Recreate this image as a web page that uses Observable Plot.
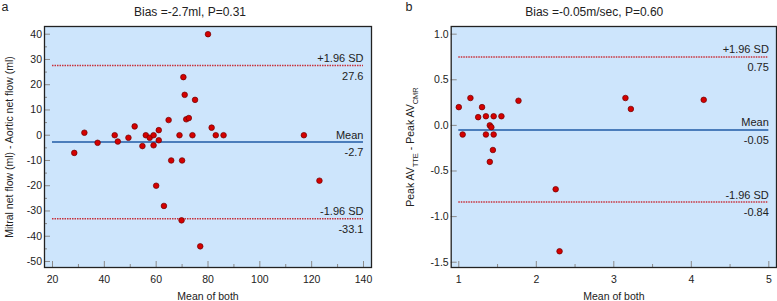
<!DOCTYPE html>
<html><head><meta charset="utf-8">
<script src="https://cdn.jsdelivr.net/npm/d3@7"></script>
<script src="https://cdn.jsdelivr.net/npm/@observablehq/plot@0.6"></script>
<style>
body{margin:0;background:#fff;}
#wrap{display:flex;width:777px;height:301px;}
#wrap svg{display:block;}
</style></head><body><div id="wrap"></div>
<script>
// ---- Panel a : net flow ----
const meanA = [28.4,32.3,37.4,44,45.2,49.3,51.7,54.7,56,57.5,59,59,61,61,64.8,65.8,69,70,71.6,72.6,74,81.4,83,86,60,70.5,71,75,80,117,63,69.8,77,123];
const diffA = [-7,1,-3,0,-2.5,-1,3.5,-4.3,0,-1,0,-4,2,-2,6,-10,0,-10,6.3,6.8,0,3,0,0,-20,23,16,14,40,0,-28,-33.7,-44,-18];
const limitsA = [27.6,-2.7,-33.1];
const limitTextA = ["27.6","-2.7","-33.1"];
const xTicksA = [20,40,60,80,100,120,140];
const xMinorA = [30,50,70,90,110,130];
const yTicksA = [-50,-40,-30,-20,-10,0,10,20,30,40];
const yMinorA = [-45,-35,-25,-15,-5,5,15,25,35];
const titleA = "Bias =-2.7ml, P=0.31";
const yLabelA = "Mitral net flow (ml) - Aortic net flow (ml)";

// ---- Panel b : peak AV velocity ----
const meanB = [1.0,1.05,1.15,1.25,1.3,1.35,1.35,1.4,1.42,1.45,1.45,1.44,1.4,1.55,1.77,3.15,3.22,4.16,2.25,2.3];
const diffB = [0.2,-0.1,0.3,0.09,0.2,0.1,-0.1,0,-0.02,0.1,-0.1,-0.27,-0.4,0.1,0.27,0.3,0.18,0.28,-0.7,-1.38];
const limitsB = [0.75,-0.05,-0.84];
const limitTextB = ["0.75","-0.05","-0.84"];
const xTicksB = [1,2,3,4,5];
const xMinorB = [1.5,2.5,3.5,4.5];
const yTicksB = [-1.5,-1.0,-0.5,0.0,0.5,1.0];
const yMinorB = [];
const titleB = "Bias =-0.05m/sec, P=0.60";
const yLabelPartsB = [["Peak AV",false],["TTE",true],[" - Peak AV",false],["CMR",true]];

const limitNames = ["+1.96 SD","Mean","-1.96 SD"];
const xLabel = "Mean of both";
const FONT = "'Liberation Sans', Arial, sans-serif";

function panel(o){
  const W = o.width, H = 301;
  const pw = W - o.ml - o.mr, ph = H - o.mt - o.mb;
  const lines = o.limits.map((v,i)=>({v, name: limitNames[i], txt: o.limitText[i], mean: i===1}));
  const pts = o.xs.map((x,i)=>({x, y: o.ys[i]}));
  const span = [o.xTicks[0], o.xTicks[o.xTicks.length-1]];
  return Plot.plot({
    width: W, height: H,
    marginLeft: o.ml, marginRight: o.mr, marginTop: o.mt, marginBottom: o.mb,
    x: {domain: o.xDomain, axis: null},
    y: {domain: o.yDomain, axis: null},
    style: {fontFamily: FONT, fontSize: "10.5px", color: "#222", background: "transparent", overflow: "visible"},
    marks: [
      Plot.frame({fill: "#cde5fc", stroke: null}),
      Plot.ruleY(o.yTicks, {y: d=>d, insetRight: pw-6, stroke: "#8a8a8a"}),
      Plot.ruleY(o.yMinor, {y: d=>d, insetRight: pw-3, stroke: "#8a8a8a"}),
      Plot.ruleX(o.xTicks, {x: d=>d, insetTop: ph-6, stroke: "#8a8a8a"}),
      Plot.ruleX(o.xMinor, {x: d=>d, insetTop: ph-3, stroke: "#8a8a8a"}),
      Plot.ruleY(lines.filter(d=>!d.mean), {y: "v", x1: span[0], x2: span[1], stroke: "#c8303a", strokeWidth: 1.5, strokeDasharray: "1.5,1"}),
      Plot.ruleY(lines.filter(d=>d.mean), {y: "v", x1: span[0], x2: span[1], stroke: "#1f5aa6", strokeWidth: 1.5}),
      Plot.text(lines, {x: span[1], y: "v", text: "name", textAnchor: "end", dy: -7, fontSize: 11, fill: "#222"}),
      Plot.text(lines, {x: span[1], y: "v", text: "txt", textAnchor: "end", dy: 10.5, fontSize: 11, fill: "#222"}),
      Plot.dot(pts, {x: "x", y: "y", r: 2.8, fill: "#d40000", stroke: "#6e0000", strokeWidth: 0.7}),
      Plot.frame({stroke: "#222", strokeWidth: 1.3}),
      Plot.axisY(o.yTicks, {tickSize: 0, tickPadding: 2.5, tickFormat: o.yFmt, label: null, fontSize: 10.5}),
      Plot.axisX(o.xTicks, {tickSize: 0, tickPadding: 8, tickFormat: o.xFmt, label: null, fontSize: 10.5}),
      Plot.text([o.title], {text: d=>d, frameAnchor: "top", textAnchor: "middle", dx: o.titleDx, dy: -10.3, lineAnchor: "bottom", fontSize: 12, fill: "#222"}),
      Plot.text([xLabel], {text: d=>d, frameAnchor: "bottom", textAnchor: "middle", dy: 32, lineAnchor: "bottom", fontSize: 10.5, fill: "#222"}),
      Plot.text([o.yLabel], {text: d=>d, frameAnchor: "left", textAnchor: "middle", dx: o.yLabelDx, rotate: -90, fontSize: 10.5, fill: "#222"}),
      Plot.text([o.letter], {text: d=>d, frameAnchor: "top-left", dx: o.letterDx, dy: -16, lineAnchor: "bottom", textAnchor: "start", fontSize: 12.5, fill: "#222"})
    ]
  });
}

const wrap = document.getElementById("wrap");
const svgA = panel({
  width: 390, ml: 44, mr: 19, mt: 26, mb: 34,
  xDomain: [16.91, 143.09], yDomain: [-52.38, 43.05],
  xs: meanA, ys: diffA, limits: limitsA, limitText: limitTextA,
  xTicks: xTicksA, xMinor: xMinorA, yTicks: yTicksA, yMinor: yMinorA,
  xFmt: d=>String(d), yFmt: d=>String(d),
  title: titleA, titleDx: -18, yLabel: yLabelA, yLabelDx: -35, letter: "a", letterDx: -43
});
const yLabelB = yLabelPartsB.map(p=>p[0]).join("");
const svgB = panel({
  width: 387, ml: 60.7, mr: 1, mt: 26, mb: 34,
  xDomain: [0.902, 5.099], yDomain: [-1.558, 1.084],
  xs: meanB, ys: diffB, limits: limitsB, limitText: limitTextB,
  xTicks: xTicksB, xMinor: xMinorB, yTicks: yTicksB, yMinor: yMinorB,
  xFmt: d=>String(d), yFmt: d=>d.toFixed(1),
  title: titleB, titleDx: -19.6, yLabel: yLabelB, yLabelDx: -41, letter: "b", letterDx: -45.7
});
wrap.appendChild(svgA);
wrap.appendChild(svgB);

// subscripts in panel b's y label
svgB.querySelectorAll("text").forEach(t => {
  if (t.textContent === yLabelB) {
    const host = t.querySelector("tspan") || t;
    while (host.firstChild) host.removeChild(host.firstChild);
    let shifted = false;
    yLabelPartsB.forEach(([s, sub]) => {
      const ts = document.createElementNS("http://www.w3.org/2000/svg", "tspan");
      ts.textContent = s;
      if (sub) { ts.setAttribute("dy", "4"); ts.setAttribute("font-size", "7.5"); shifted = true; }
      else if (shifted) { ts.setAttribute("dy", "-4"); shifted = false; }
      host.appendChild(ts);
    });
  }
});
</script></body></html>
